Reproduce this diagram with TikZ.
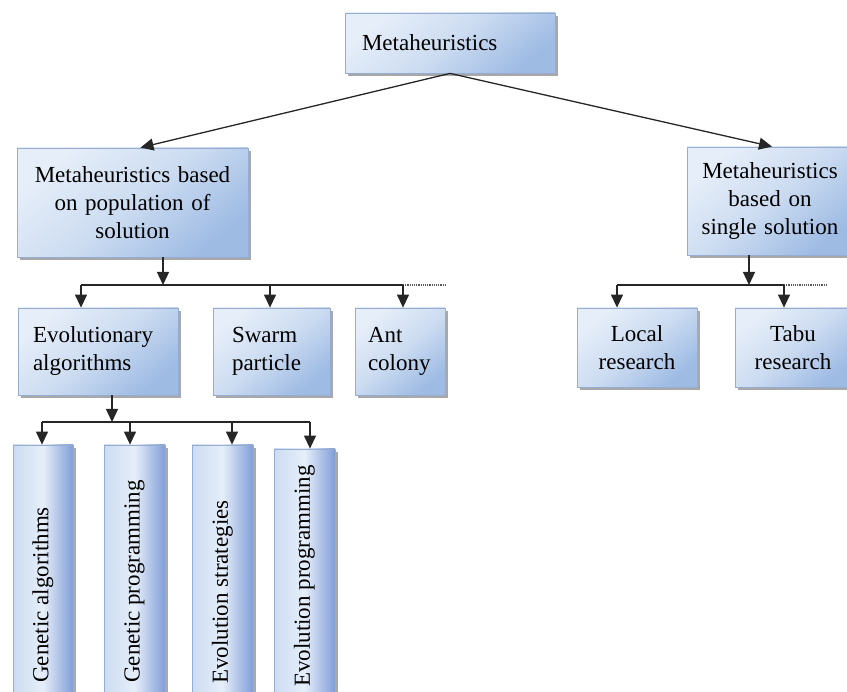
\documentclass[tikz,border=0pt]{standalone}
\usepackage{fontspec}
\setmainfont{Liberation Serif}
\usetikzlibrary{shadows,arrows.meta,calc}
\definecolor{bxL}{RGB}{230,238,249}
\definecolor{bxM}{RGB}{204,220,241}
\definecolor{bxR}{RGB}{158,187,228}
\definecolor{bxV}{RGB}{128,158,215}
\definecolor{bxD}{RGB}{150,172,208}
\definecolor{shd}{RGB}{168,168,168}
\begin{document}
\begin{tikzpicture}[x=1pt,y=-1pt,
  bx/.style={rectangle, draw=bxD, line width=0.8pt, inner sep=0pt,
    top color=bxL, bottom color=bxR, middle color=bxM, shading angle=40,
    drop shadow={shadow xshift=3pt, shadow yshift=-3pt, fill=shd, opacity=1},
    font=\fontsize{23}{28}\selectfont},
  vbx/.style={rectangle, draw=bxD, line width=0.8pt, inner sep=0pt,
    left color=bxM, right color=bxV, middle color=bxL,
    drop shadow={shadow xshift=3pt, shadow yshift=-3pt, fill=shd, opacity=1}},
  vtxt/.style={rotate=90, inner sep=0pt, font=\fontsize{23}{28}\selectfont},
  ln/.style={line width=1.3pt, draw=black!85},
  arr/.style={ln, -{Triangle[width=12pt,length=13pt]}},
  dotln/.style={line width=1.2pt, dash pattern=on 1.2pt off 1pt, draw=black!65}
]
\clip (0,0) rectangle (847,692);

% boxes
\node[bx, minimum height=60pt, text width=176pt, inner xsep=17pt, align=left] (top) at (450,43) {Metaheuristics};
\node[bx, minimum height=109pt, text width=225pt, inner xsep=3pt, align=center] (pop) at (132.5,202.5) {Metaheuristics based\\on population of\\solution};
\node[bx, minimum height=108pt, text width=160pt, inner xsep=3pt, align=center] (single) at (770,201) {Metaheuristics\\based on\\single solution};

\node[bx, minimum height=87pt, text width=130pt, inner xsep=15pt, align=left] (evo) at (98,351.5) {Evolutionary\\algorithms};
\node[bx, minimum height=87pt, text width=79pt, inner xsep=19pt, align=left] (swarm) at (271.5,351.5) {Swarm\\particle};
\node[bx, minimum height=87pt, text width=64pt, inner xsep=13pt, align=left] (ant) at (400,351.5) {Ant\\colony};

\node[bx, minimum height=79pt, text width=114pt, inner xsep=3pt, align=center] (local) at (637,347.5) {Local\\research};
\node[bx, minimum height=79pt, text width=110pt, inner xsep=3pt, align=center] (tabu) at (793,347.5) {Tabu\\research};

\node[vbx, minimum width=60pt, minimum height=255pt] (ga) at (43,572.5) {};
\node[vbx, minimum width=61pt, minimum height=255pt] (gp) at (134.5,572.5) {};
\node[vbx, minimum width=61pt, minimum height=255pt] (es) at (222.5,572.5) {};
\node[vbx, minimum width=61pt, minimum height=251pt] (ep) at (304.5,574.5) {};
\node[vtxt, anchor=west] (gaT) at (43,683) {Genetic algorithms};
\node[vtxt, anchor=west] (gpT) at (134.5,683) {Genetic programming};
\node[vtxt, anchor=west] (esT) at (222.5,684) {Evolution strategies};
\node[vtxt, anchor=west] (epT) at (304.5,687) {Evolution programming};

% junction coordinates
\coordinate (j1) at (163,285);
\coordinate (h1L) at (81,285);
\coordinate (h1S) at (270,285);
\coordinate (h1R) at (403,285);
\coordinate (h1D) at (445,285);
\coordinate (j2) at (749,285);
\coordinate (h2L) at (617,285);
\coordinate (h2R) at (784,285);
\coordinate (h2D) at (828,285);
\coordinate (j3) at (112,422);
\coordinate (h3a) at (42,422);
\coordinate (h3b) at (130,422);
\coordinate (h3c) at (232,422);
\coordinate (h3d) at (310,422);

% connectors
\draw[arr] (top.south) -- ($(pop.north)+(8,0)$);
\draw[arr] (top.south) -- ($(single.north)+(2,0)$);

\draw[arr] (pop.south -| j1) -- (j1);
\draw[ln] (h1L) -- (h1R);
\draw[dotln] (h1R) -- (h1D);
\draw[arr] (h1L) -- (h1L |- evo.north);
\draw[arr] (h1S) -- (h1S |- swarm.north);
\draw[arr] (h1R) -- (h1R |- ant.north);

\draw[arr] (single.south -| j2) -- (j2);
\draw[ln] (h2L) -- (h2R);
\draw[dotln] (h2R) -- (h2D);
\draw[arr] (h2L) -- (h2L |- local.north);
\draw[arr] (h2R) -- (h2R |- tabu.north);

\draw[arr] (evo.south -| j3) -- (j3);
\draw[ln] (h3a) -- (h3d);
\draw[arr] (h3a) -- (h3a |- ga.north);
\draw[arr] (h3b) -- (h3b |- gp.north);
\draw[arr] (h3c) -- (h3c |- es.north);
\draw[arr] (h3d) -- (h3d |- ep.north);
\end{tikzpicture}
\end{document}
